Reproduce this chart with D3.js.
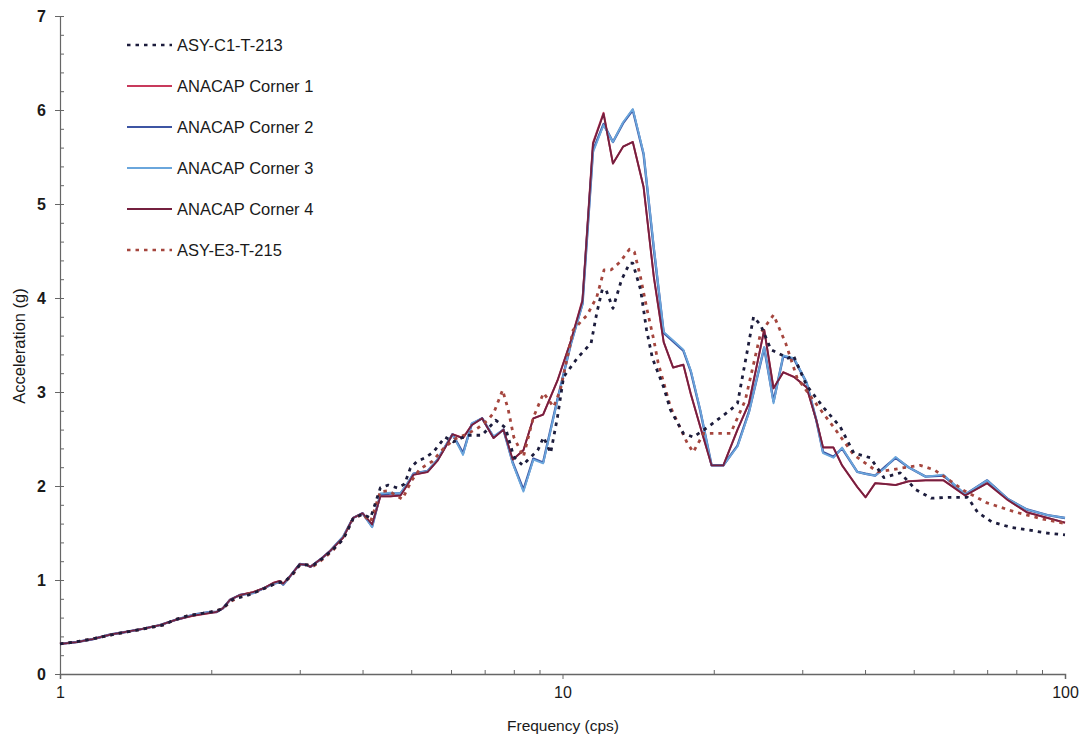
<!DOCTYPE html>
<html>
<head>
<meta charset="utf-8">
<script src="https://cdn.jsdelivr.net/npm/d3@7"></script>
<style>
  body { margin: 0; background: #fff; }
  svg { font-family: "Liberation Sans", Arial, sans-serif; }
</style>
</head>
<body>
<svg id="chart" width="1083" height="743"></svg>
<script>
// ---------- DATA ----------
const seriesNames = ["ASY-C1-T-213", "ANACAP Corner 1", "ANACAP Corner 2", "ANACAP Corner 3", "ANACAP Corner 4", "ASY-E3-T-215"];
const yTickValues = [0, 1, 2, 3, 4, 5, 6, 7];
const xTickValues = [1, 10, 100];

// common frequency grid of the ANACAP curves (cps)
const anacapFreq = [
  1.0, 1.08, 1.16, 1.26, 1.36, 1.46, 1.58, 1.71, 1.84, 1.99,
  2.05, 2.11, 2.18, 2.28, 2.42, 2.54, 2.66, 2.74, 2.78, 2.87,
  3.0, 3.1, 3.15, 3.3, 3.45, 3.66, 3.83, 4.0, 4.18, 4.34,
  4.55, 4.76, 4.91, 5.05, 5.39, 5.64, 5.8, 6.04, 6.34, 6.6,
  6.92, 7.29, 7.63, 7.96, 8.36, 8.75, 9.15, 9.77, 10.4, 10.96,
  11.5, 12.07, 12.6, 13.2, 13.8, 14.5, 15.2, 15.9, 16.6, 17.4,
  18.0, 18.8, 19.8, 20.9, 22.3, 23.5, 25.2, 26.3, 27.5, 28.9,
  30.6, 32.0, 33.0, 34.6, 36.0, 38.6, 40.1, 41.9, 44.0, 46.0,
  48.8, 52.8, 57.3, 63.3, 70.0, 77.0, 84.0, 92.3, 100
];
const corner1 = [
  0.32, 0.34, 0.37, 0.42, 0.45, 0.48, 0.52, 0.58, 0.62, 0.65,
  0.66, 0.70, 0.79, 0.84, 0.87, 0.91, 0.97, 0.99, 0.96, 1.04,
  1.17, 1.16, 1.14, 1.22, 1.31, 1.45, 1.66, 1.71, 1.59, 1.89,
  1.89, 1.90, 2.01, 2.12, 2.15, 2.27, 2.38, 2.55, 2.51, 2.65,
  2.72, 2.51, 2.60, 2.28, 2.38, 2.72, 2.76, 3.12, 3.55, 3.98,
  5.65, 5.97, 5.43, 5.61, 5.66, 5.18, 4.22, 3.53, 3.26, 3.29,
  2.98, 2.63, 2.22, 2.22, 2.60, 2.88, 3.66, 3.04, 3.21, 3.16,
  3.05, 2.70, 2.41, 2.41, 2.22, 1.99, 1.88, 2.03, 2.02, 2.01,
  2.05, 2.06, 2.06, 1.90, 2.03, 1.85, 1.72, 1.66, 1.61
];
const corner2 = [
  0.32, 0.34, 0.37, 0.42, 0.45, 0.48, 0.52, 0.58, 0.63, 0.66,
  0.66, 0.70, 0.79, 0.84, 0.86, 0.91, 0.96, 0.98, 0.95, 1.04,
  1.17, 1.16, 1.14, 1.22, 1.31, 1.46, 1.66, 1.71, 1.57, 1.91,
  1.92, 1.92, 2.02, 2.13, 2.16, 2.28, 2.39, 2.55, 2.35, 2.66,
  2.72, 2.52, 2.60, 2.25, 1.96, 2.29, 2.25, 2.92, 3.52, 3.94,
  5.57, 5.85, 5.66, 5.86, 6.00, 5.53, 4.52, 3.63, 3.54, 3.44,
  3.22, 2.80, 2.22, 2.22, 2.43, 2.79, 3.47, 2.90, 3.38, 3.35,
  3.10, 2.70, 2.36, 2.31, 2.40, 2.15, 2.13, 2.11, 2.21, 2.30,
  2.20, 2.10, 2.11, 1.91, 2.06, 1.86, 1.75, 1.69, 1.66
];
const corner3 = [
  0.32, 0.34, 0.37, 0.42, 0.45, 0.48, 0.52, 0.58, 0.63, 0.66,
  0.66, 0.70, 0.79, 0.84, 0.86, 0.91, 0.96, 0.98, 0.95, 1.04,
  1.17, 1.16, 1.14, 1.22, 1.31, 1.46, 1.66, 1.71, 1.56, 1.92,
  1.93, 1.92, 2.03, 2.13, 2.16, 2.28, 2.40, 2.55, 2.33, 2.67,
  2.72, 2.53, 2.60, 2.24, 1.94, 2.28, 2.24, 2.91, 3.52, 3.93,
  5.55, 5.84, 5.66, 5.87, 6.01, 5.54, 4.54, 3.64, 3.55, 3.45,
  3.23, 2.81, 2.22, 2.22, 2.42, 2.78, 3.48, 2.88, 3.39, 3.36,
  3.10, 2.70, 2.35, 2.30, 2.41, 2.15, 2.13, 2.11, 2.20, 2.31,
  2.20, 2.10, 2.12, 1.91, 2.06, 1.86, 1.75, 1.69, 1.66
];
const corner4 = [
  0.32, 0.34, 0.37, 0.42, 0.45, 0.48, 0.52, 0.58, 0.62, 0.65,
  0.66, 0.70, 0.79, 0.84, 0.87, 0.91, 0.97, 0.99, 0.96, 1.04,
  1.17, 1.16, 1.14, 1.22, 1.31, 1.45, 1.66, 1.71, 1.59, 1.89,
  1.89, 1.90, 2.01, 2.12, 2.15, 2.27, 2.38, 2.55, 2.51, 2.65,
  2.72, 2.51, 2.60, 2.28, 2.38, 2.72, 2.76, 3.12, 3.55, 3.97,
  5.64, 5.96, 5.43, 5.61, 5.66, 5.18, 4.22, 3.53, 3.26, 3.29,
  2.98, 2.63, 2.22, 2.22, 2.60, 2.88, 3.66, 3.04, 3.21, 3.16,
  3.05, 2.70, 2.41, 2.41, 2.22, 1.99, 1.88, 2.03, 2.02, 2.01,
  2.05, 2.06, 2.06, 1.90, 2.03, 1.85, 1.72, 1.66, 1.61
];

// ASY-C1-T-213
const asyC1Freq = [
  1.0, 1.1, 1.2, 1.3, 1.4, 1.5, 1.6, 1.7, 1.8, 1.9,
  2.0, 2.1, 2.2, 2.3, 2.4, 2.5, 2.6, 2.7, 2.8, 2.9,
  3.0, 3.1, 3.2, 3.35, 3.5, 3.66, 3.83, 4.0, 4.15, 4.34,
  4.5, 4.69, 4.85, 4.98, 5.13, 5.33, 5.53, 5.84, 6.07, 6.46,
  6.92, 7.36, 7.7, 8.0, 8.33, 8.54, 8.93, 9.17, 9.47, 9.77,
  10.05, 10.7, 11.4, 11.7, 12.0, 12.2, 12.6, 13.1, 13.6, 13.8,
  14.3, 14.7, 15.1, 15.9, 16.4, 17.4, 18.2, 19.5, 21.6, 22.3,
  23.4, 24.0, 24.8, 26.0, 28.1, 28.8, 30.6, 33.0, 35.7, 38.0,
  41.0, 43.6, 47.0, 50.5, 54.2, 58.5, 64.0, 67.0, 71.4, 78.0,
  85.0, 92.0, 100
];
const asyC1 = [
  0.32, 0.35, 0.39, 0.43, 0.46, 0.49, 0.52, 0.58, 0.62, 0.64,
  0.66, 0.69, 0.79, 0.82, 0.85, 0.89, 0.93, 0.97, 0.98, 1.06,
  1.16, 1.16, 1.16, 1.24, 1.33, 1.43, 1.65, 1.70, 1.66, 1.98,
  2.01, 1.98, 2.02, 2.19, 2.26, 2.30, 2.36, 2.52, 2.47, 2.54,
  2.54, 2.70, 2.62, 2.31, 2.22, 2.28, 2.38, 2.52, 2.35, 2.73,
  3.16, 3.36, 3.52, 3.84, 4.09, 4.09, 3.89, 4.19, 4.37, 4.37,
  4.09, 3.66, 3.36, 3.05, 2.81, 2.56, 2.52, 2.63, 2.81, 2.88,
  3.48, 3.80, 3.71, 3.45, 3.36, 3.39, 3.07, 2.84, 2.63, 2.35,
  2.30, 2.09, 2.14, 1.96, 1.87, 1.88, 1.88, 1.72, 1.62, 1.56,
  1.53, 1.50, 1.48
];

// ASY-E3-T-215
const asyE3Freq = [
  1.0, 1.1, 1.2, 1.3, 1.4, 1.5, 1.6, 1.7, 1.8, 1.9,
  2.0, 2.1, 2.2, 2.3, 2.4, 2.5, 2.6, 2.7, 2.8, 2.9,
  3.0, 3.1, 3.2, 3.35, 3.5, 3.66, 3.83, 4.0, 4.15, 4.34,
  4.5, 4.8, 5.0, 5.2, 5.5, 5.8, 6.1, 6.5, 6.8, 7.1,
  7.3, 7.6, 7.8, 8.0, 8.36, 8.75, 9.17, 9.6, 9.9, 10.5,
  11.2, 11.7, 12.1, 12.5, 13.0, 13.6, 13.9, 14.3, 14.7, 15.2,
  15.5, 16.4, 17.7, 18.2, 19.1, 21.6, 23.1, 24.8, 26.3, 27.8,
  29.3, 31.6, 34.6, 38.0, 42.4, 48.6, 51.5, 55.0, 59.3, 63.0,
  70.0, 80.0, 90.0, 100
];
const asyE3 = [
  0.32, 0.35, 0.39, 0.43, 0.46, 0.49, 0.52, 0.58, 0.62, 0.64,
  0.66, 0.69, 0.78, 0.83, 0.86, 0.89, 0.93, 0.97, 0.98, 1.05,
  1.16, 1.16, 1.15, 1.23, 1.32, 1.44, 1.65, 1.70, 1.62, 1.94,
  1.95, 1.86, 2.05, 2.18, 2.26, 2.40, 2.50, 2.56, 2.62, 2.70,
  2.78, 3.02, 2.81, 2.52, 2.31, 2.73, 2.99, 2.84, 3.02, 3.66,
  3.82, 4.01, 4.30, 4.30, 4.38, 4.52, 4.49, 4.22, 3.90, 3.55,
  3.31, 2.84, 2.46, 2.36, 2.56, 2.56, 2.91, 3.63, 3.82, 3.52,
  3.15, 2.91, 2.63, 2.33, 2.15, 2.20, 2.22, 2.17, 2.05, 1.95,
  1.82, 1.72, 1.65, 1.60
];

// ---------- CHART ----------
const svg = d3.select("#chart");
const x = d3.scaleLog().domain([1, 100]).range([60, 1065]);
const y = d3.scaleLinear().domain([0, 7]).range([674, 16]);

const axisColor = "#666";
const textColor = "#1a1a1a";
const fontFam = "Liberation Sans, Arial, sans-serif";

// minor ticks
const yMinor = d3.range(0, 7.001, 0.2).map(v => +v.toFixed(1));
svg.append("g").attr("transform", "translate(60,0)")
  .call(d3.axisRight(y).tickValues(yMinor).tickSize(4).tickFormat(""))
  .call(g => g.select(".domain").remove())
  .call(g => g.selectAll("line").attr("stroke", axisColor));

const xMinor = [2,3,4,5,6,7,8,9,20,30,40,50,60,70,80,90];
svg.append("g").attr("transform", "translate(0,674)")
  .call(d3.axisTop(x).tickValues(xMinor).tickSize(4).tickFormat(""))
  .call(g => g.select(".domain").remove())
  .call(g => g.selectAll("line").attr("stroke", axisColor));

// major axes
svg.append("g").attr("transform", "translate(60,0)")
  .call(d3.axisLeft(y).tickValues(yTickValues).tickSize(5).tickPadding(9).tickFormat(d3.format("d")))
  .call(g => g.select(".domain").attr("stroke", axisColor).attr("stroke-width", 1.2))
  .call(g => g.selectAll("line").attr("stroke", axisColor))
  .call(g => g.selectAll("text").attr("font-size", 16).attr("font-weight", "bold").attr("fill", textColor)
      .attr("font-family", fontFam));

svg.append("g").attr("transform", "translate(0,674)")
  .call(d3.axisBottom(x).tickValues(xTickValues).tickSize(5).tickPadding(8).tickFormat(d3.format("d")))
  .call(g => g.select(".domain").attr("stroke", axisColor).attr("stroke-width", 1.5))
  .call(g => g.selectAll("line").attr("stroke", axisColor))
  .call(g => g.selectAll("text").attr("font-size", 16).attr("fill", textColor)
      .attr("font-family", fontFam));

// axis titles
svg.append("text").attr("x", 563).attr("y", 731).attr("text-anchor", "middle")
  .attr("font-size", 15.5).attr("fill", textColor).text("Frequency (cps)");
svg.append("text").attr("transform", "translate(25,346) rotate(-90)").attr("text-anchor", "middle")
  .attr("font-size", 16.5).attr("fill", textColor).text("Acceleration (g)");

// series
const styles = [
  { color: "#1c1c3c", width: 2.8, dash: "3.5,5" },
  { color: "#c83a5c", width: 2,   dash: null },
  { color: "#3d55a3", width: 2.4, dash: null },
  { color: "#6aa6dc", width: 1.8, dash: null },
  { color: "#74203f", width: 1.8, dash: null },
  { color: "#a5463e", width: 2.8, dash: "3.5,5" }
];
const seriesData = [
  d3.zip(asyC1Freq, asyC1),
  d3.zip(anacapFreq, corner1),
  d3.zip(anacapFreq, corner2),
  d3.zip(anacapFreq, corner3),
  d3.zip(anacapFreq, corner4),
  d3.zip(asyE3Freq, asyE3)
];
const line = d3.line().x(d => x(d[0])).y(d => y(d[1]));
const drawOrder = [1, 2, 3, 4, 5, 0];
drawOrder.forEach(i => {
  const p = svg.append("path").datum(seriesData[i])
    .attr("d", line).attr("fill", "none")
    .attr("stroke", styles[i].color).attr("stroke-width", styles[i].width)
    .attr("stroke-linejoin", "round");
  if (styles[i].dash) p.attr("stroke-dasharray", styles[i].dash);
});

// legend
const legendY = [45, 86, 127, 168, 209, 250];
seriesNames.forEach((name, i) => {
  const g = svg.append("g");
  const l = g.append("line").attr("x1", 127).attr("x2", 172).attr("y1", legendY[i]).attr("y2", legendY[i])
    .attr("stroke", styles[i].color).attr("stroke-width", styles[i].dash ? 2.6 : 2);
  if (styles[i].dash) l.attr("stroke-dasharray", styles[i].dash);
  g.append("text").attr("x", 177).attr("y", legendY[i] + 6).attr("font-size", 16.5)
    .attr("fill", textColor).text(name);
});
</script>
</body>
</html>
